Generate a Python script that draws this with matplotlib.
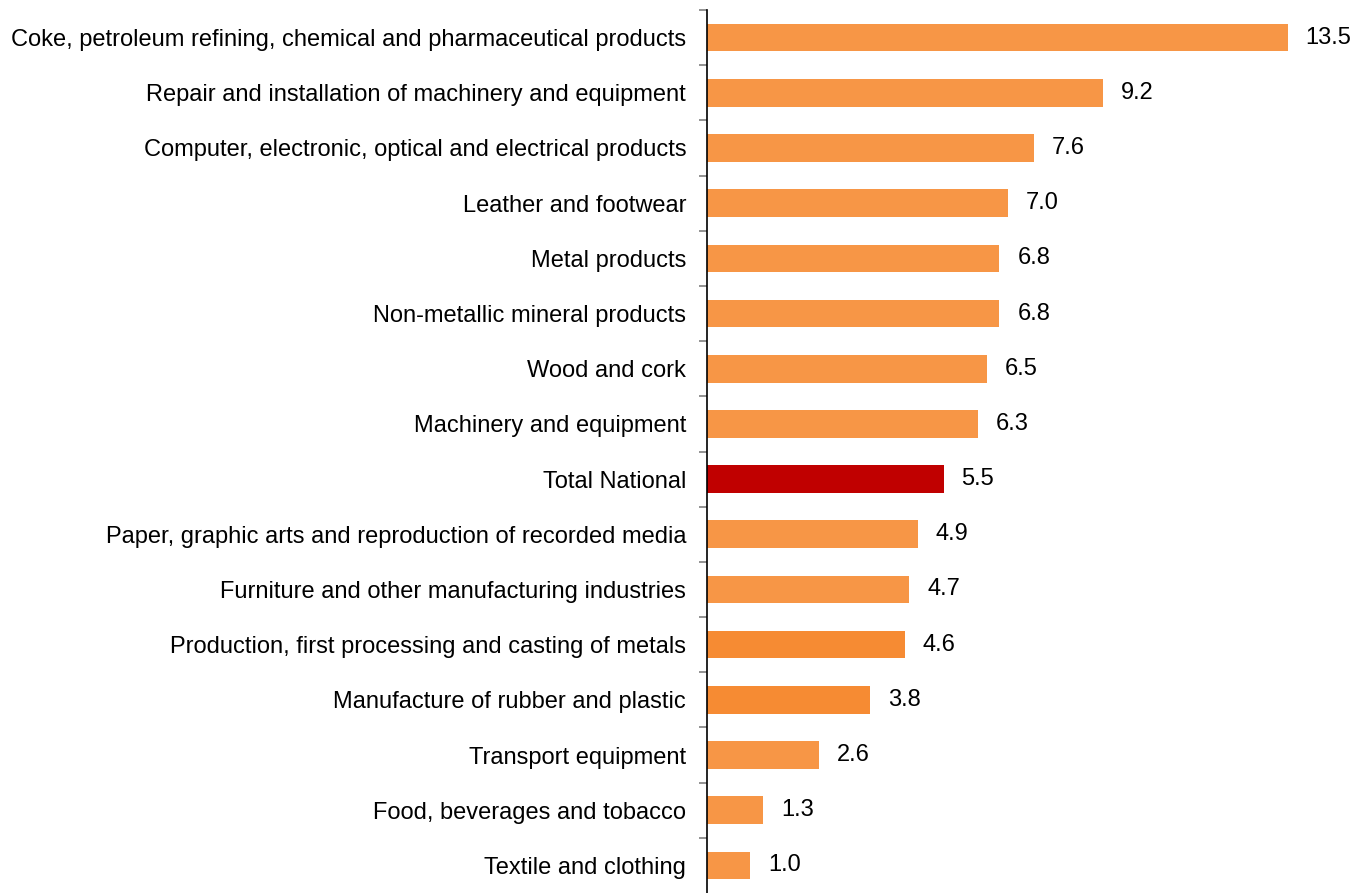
import matplotlib.pyplot as plt
import numpy as np

plt.rcParams['font.family'] = ['Liberation Sans', 'DejaVu Sans']

# Sectors and values (top to bottom)
sectors = [
    'Coke, petroleum refining, chemical and pharmaceutical products',
    'Repair and installation of machinery and equipment',
    'Computer, electronic, optical and electrical products',
    'Leather and footwear',
    'Metal products',
    'Non-metallic mineral products',
    'Wood and cork',
    'Machinery and equipment',
    'Total National',
    'Paper, graphic arts and reproduction of recorded media',
    'Furniture and other manufacturing industries',
    'Production, first processing and casting of metals',
    'Manufacture of rubber and plastic',
    'Transport equipment',
    'Food, beverages and tobacco',
    'Textile and clothing',
]
values = [13.5, 9.2, 7.6, 7.0, 6.8, 6.8, 6.5, 6.3, 5.5, 4.9, 4.7, 4.6, 3.8, 2.6, 1.3, 1.0]

orange = '#F79646'
colors = [orange] * len(sectors)
colors[sectors.index('Total National')] = '#C00000'
colors[sectors.index('Production, first processing and casting of metals')] = '#F68B33'
colors[sectors.index('Manufacture of rubber and plastic')] = '#F68B33'

fig = plt.figure(figsize=(13.65, 8.93), dpi=100)
ax = fig.add_axes([707 / 1365, 0.0, (1352 - 707) / 1365, 883 / 893])

y = np.arange(len(sectors))
ax.barh(y, values, height=0.5, color=colors)

for yi, v in zip(y, values):
    ax.annotate(f'{v:.1f}', xy=(v, yi), xytext=(13, 0), textcoords='offset points',
                va='center', ha='left', fontsize=17)

ax.set_xlim(0, 15)
ax.set_ylim(len(sectors) - 0.5, -0.5)

ax.set_yticks(y)
ax.set_yticklabels(sectors, fontsize=17)
ax.tick_params(axis='y', which='major', length=0, pad=15)
ax.set_yticks(np.arange(len(sectors)) - 0.5, minor=True)
ax.tick_params(axis='y', which='minor', length=6, color='#808080', width=1.2)

ax.set_xticks([])
for s in ['top', 'right', 'bottom']:
    ax.spines[s].set_visible(False)
ax.spines['left'].set_linewidth(1.2)

fig.savefig('out.png', dpi=100)
